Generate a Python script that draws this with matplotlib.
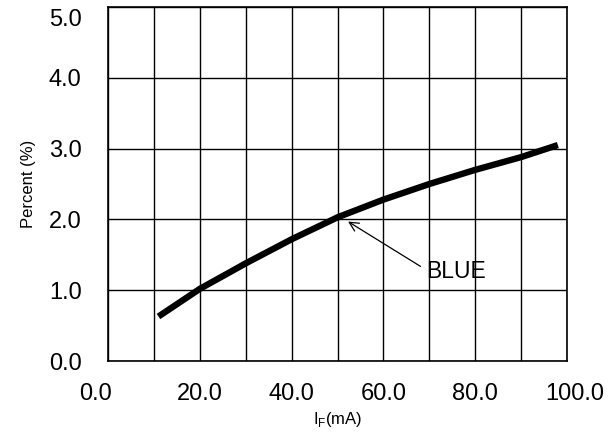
import numpy as np
import matplotlib
matplotlib.use('Agg')
import matplotlib.pyplot as plt
from matplotlib.ticker import MultipleLocator
from matplotlib.transforms import ScaledTranslation

plt.rcParams['font.family'] = ['Liberation Sans', 'DejaVu Sans']

# forward current (mA) vs percent
i_f = [11, 20, 30, 40, 50, 60, 70, 80, 90, 98]
percent = [0.63, 1.02, 1.38, 1.72, 2.03, 2.28, 2.50, 2.70, 2.88, 3.05]
x_ticks = [0, 20, 40, 60, 80, 100]
y_ticks = [0, 1, 2, 3, 4, 5]

fig = plt.figure(figsize=(6.15, 4.33), dpi=100)
ax = fig.add_axes([0.1756, 0.166, 0.7464, 0.818])

ax.plot(i_f, percent, color='black', lw=4.6, solid_capstyle='butt')

ax.set_xlim(0, 100)
ax.set_ylim(0, 5)
ax.set_xticks(x_ticks)
ax.set_xticklabels(['%.1f' % t for t in x_ticks])
ax.set_yticks(y_ticks)
ax.set_yticklabels(['%.1f' % t for t in y_ticks])
ax.xaxis.set_minor_locator(MultipleLocator(10))
ax.grid(True, which='both', color='black', lw=1.0)
ax.set_axisbelow(True)
ax.tick_params(which='both', length=0)
ax.tick_params(axis='x', pad=16, labelsize=17)
ax.tick_params(axis='y', pad=19, labelsize=17)
for s in ax.spines.values():
    s.set_linewidth(1.2)

# nudge end labels the way the original does
xl = ax.get_xticklabels()
xl[0].set_transform(xl[0].get_transform() + ScaledTranslation(-0.12, 0, fig.dpi_scale_trans))
xl[-1].set_transform(xl[-1].get_transform() + ScaledTranslation(0.08, 0, fig.dpi_scale_trans))
yl = ax.get_yticklabels()
yl[-1].set_transform(yl[-1].get_transform() + ScaledTranslation(0, -0.11, fig.dpi_scale_trans))

ax.set_ylabel('Percent (%)', fontsize=12, labelpad=9)
ax.set_xlabel('I$_\\mathregular{F}$(mA)', fontsize=12, labelpad=3)

ax.annotate('BLUE', xy=(52.3, 1.97), xytext=(69.2, 1.26), fontsize=16.5,
            va='center', ha='left',
            arrowprops=dict(arrowstyle='->', color='black', lw=0.9,
                            shrinkA=2, shrinkB=0, relpos=(0, 0.6)))

fig.savefig('out.png', dpi=100)
